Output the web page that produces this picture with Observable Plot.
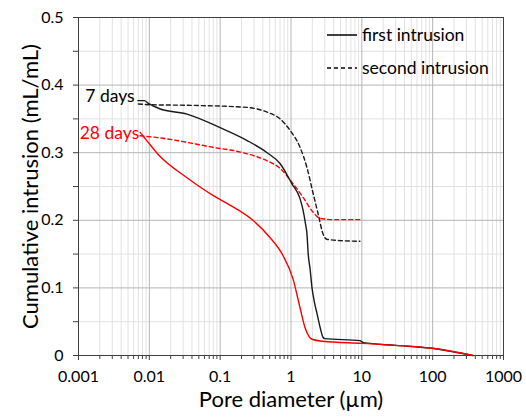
<!DOCTYPE html>
<html>
<head>
<meta charset="utf-8">
<script src="https://cdn.jsdelivr.net/npm/d3@7"></script>
<script src="https://cdn.jsdelivr.net/npm/@observablehq/plot@0.6"></script>
<style>
  html, body { margin: 0; padding: 0; background: #fff; }
  #wrap { position: relative; width: 526px; height: 417px; font-family: Lato, "Open Sans", sans-serif; }
  #legend { position: absolute; left: 327px; top: 18px; font-size: 17.5px; color: #000; }
  #legend .row { display: flex; align-items: center; height: 33px; }
  #legend svg { margin-right: 5px; }
</style>
</head>
<body>
<div id="wrap">
  <div id="chart"></div>
  <div id="legend">
    <div class="row"><svg width="30" height="4"><line x1="0" y1="2" x2="30" y2="2" stroke="#000" stroke-width="1.5"/></svg>first intrusion</div>
    <div class="row"><svg width="30" height="4"><line x1="0" y1="2" x2="30" y2="2" stroke="#000" stroke-width="1.5" stroke-dasharray="4,3"/></svg>second intrusion</div>
  </div>
</div>
<script>
// Pore diameter (µm) and cumulative intrusion (mL/mL)
const d7FirstX  = [0.0069, 0.0085, 0.0097, 0.014, 0.034, 0.1, 0.24, 0.46, 0.70, 1.03, 1.34, 1.48, 1.6, 1.68, 1.75, 1.86, 1.98, 2.15, 2.33, 2.6, 2.83, 3.0, 9.4, 10.5, 30, 92, 194, 370];
const d7FirstY  = [0.377, 0.377, 0.373, 0.365, 0.357, 0.337, 0.318, 0.300, 0.284, 0.254, 0.232, 0.215, 0.195, 0.18, 0.15, 0.128, 0.10, 0.078, 0.062, 0.04, 0.027, 0.025, 0.022, 0.019, 0.015, 0.011, 0.0055, 0];

const d7SecondX = [0.0070, 0.0101, 0.041, 0.24, 0.46, 0.70, 0.97, 1.34, 1.68, 2.05, 2.41, 2.83, 3.2, 5, 9.4];
const d7SecondY = [0.372, 0.371, 0.370, 0.367, 0.360, 0.350, 0.333, 0.308, 0.278, 0.240, 0.210, 0.180, 0.172, 0.170, 0.169];

const d28FirstX = [0.0074, 0.0095, 0.014, 0.034, 0.079, 0.125, 0.29, 0.50, 0.77, 1.07, 1.34, 1.58, 1.8, 1.98, 2.8, 10, 30, 92, 194, 370];
const d28FirstY = [0.330, 0.316, 0.295, 0.263, 0.237, 0.225, 0.200, 0.175, 0.148, 0.113, 0.071, 0.041, 0.028, 0.024, 0.021, 0.018, 0.015, 0.011, 0.006, 0];

const d28SecondX = [0.0074, 0.014, 0.079, 0.21, 0.46, 0.70, 1.07, 1.48, 2.05, 2.56, 4, 9.4];
const d28SecondY = [0.325, 0.322, 0.308, 0.300, 0.288, 0.277, 0.254, 0.234, 0.212, 0.203, 0.201, 0.201];

const curveLabels = ["7 days", "28 days"];
const curveLabelX = [0.0062, 0.0072];
const curveLabelY = [0.383, 0.328];
const curveColors = ["#000000", "#ff0000"];

const xMajor = [0.001, 0.01, 0.1, 1, 10, 100, 1000];
const xMinor = xMajor.slice(0, -1).flatMap(d => [2,3,4,5,6,7,8,9].map(k => +(k * d).toPrecision(3)));
const yMajor = [0, 0.1, 0.2, 0.3, 0.4, 0.5];
const yMinor = [0.05, 0.15, 0.25, 0.35, 0.45];

const toRows = (xs, ys) => xs.map((x, i) => ({x, y: ys[i]}));
const labelRows = curveLabels.map((t, i) => ({t, x: curveLabelX[i], y: curveLabelY[i], c: curveColors[i]}));

const lineOpts = {x: "x", y: "y", strokeWidth: 1.4, curve: "monotone-x"};

const chart = Plot.plot({
  width: 526,
  height: 417,
  marginLeft: 78,
  marginRight: 23,
  marginTop: 17,
  marginBottom: 62,
  style: {fontFamily: "Lato, 'Open Sans', sans-serif", background: "#fff", color: "#000"},
  x: {type: "log", domain: [0.001, 1000]},
  y: {domain: [0, 0.5]},
  marks: [
    Plot.ruleX(xMinor, {stroke: "#e2e2e2", strokeWidth: 1}),
    Plot.ruleY(yMinor, {stroke: "#e2e2e2", strokeWidth: 1}),
    Plot.ruleX(xMajor, {stroke: "#b5b5b5", strokeWidth: 1}),
    Plot.ruleY(yMajor, {stroke: "#b5b5b5", strokeWidth: 1}),
    Plot.frame({stroke: "#404040", strokeWidth: 1}),
    Plot.axisX({ticks: xMajor, tickSize: 5, tickPadding: 10, fontSize: 16, tickFormat: d => String(d), label: null, stroke: "#404040"}),
    Plot.axisX({ticks: xMinor, tickSize: 4, tickFormat: () => "", label: null, stroke: "#404040"}),
    Plot.axisY({ticks: yMajor, tickSize: 5, tickPadding: 10, fontSize: 16, tickFormat: d => String(d), label: null, stroke: "#404040"}),
    Plot.axisY({ticks: yMinor, tickSize: 5, tickFormat: () => "", label: null, stroke: "#404040"}),
    Plot.line(toRows(d7SecondX, d7SecondY), {...lineOpts, stroke: "#1a1a1a", strokeDasharray: "4,3"}),
    Plot.line(toRows(d28SecondX, d28SecondY), {...lineOpts, stroke: "#ff0000", strokeDasharray: "4,3"}),
    Plot.line(toRows(d7FirstX, d7FirstY), {...lineOpts, stroke: "#1a1a1a"}),
    Plot.line(toRows(d28FirstX, d28FirstY), {...lineOpts, stroke: "#ff0000"}),
    Plot.text(labelRows, {x: "x", y: "y", text: "t", fill: "c", textAnchor: "end", fontSize: 17.5}),
    Plot.text(["Pore diameter (µm)"], {frameAnchor: "bottom", dy: 51, fontSize: 22, fill: "#000"}),
    Plot.text(["Cumulative intrusion (mL/mL)"], {frameAnchor: "left", dx: -48, rotate: -90, textAnchor: "middle", fontSize: 22, fill: "#000"})
  ]
});
document.getElementById("chart").appendChild(chart);
</script>
</body>
</html>
